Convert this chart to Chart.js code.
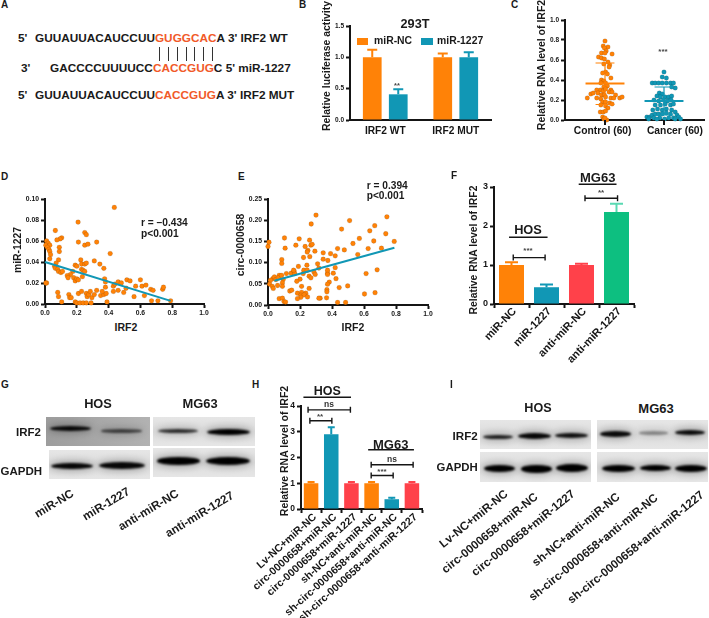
<!DOCTYPE html>
<html><head><meta charset="utf-8">
<script src="https://cdn.jsdelivr.net/npm/chart.js@4"></script>
<style>
html,body{margin:0;padding:0;background:#fff}
#fig{position:relative;width:709px;height:618px;overflow:hidden;background:#fff;filter:blur(.35px);font-family:"Liberation Sans",Arial,sans-serif;font-weight:bold;color:#1a1a1a}
#fig canvas{position:absolute}
.t{position:absolute;white-space:nowrap;line-height:1}
.o{color:#f15a29}
.r{position:absolute}
.p{position:absolute;overflow:hidden}
.b{position:absolute;border-radius:50%/50%;filter:blur(1.2px)}
</style></head><body><div id="fig"></div>
<script>
const ORANGE='#ff8207',TEAL='#1197b5',RED='#ff414a',GREEN='#0dbf80',INK='#151515';

// Panel B
const bCategories=['IRF2 WT','IRF2 MUT'];
const bNC=[1.0,1.0], bNCErr=[0.12,0.06];
const b1227=[0.41,1.0], b1227Err=[0.08,0.08];
// Panel C
const cCategories=['Control (60)','Cancer (60)'];
const cLabelAt=[.96,2.186];
const cControl=[[1,.79],[.97,.74],[1.05,.73],[.99,.72],[1.02,.69],[.94,.67],[1,.67],[1.12,.66],[.89,.63],[.94,.62],[.99,.61],[1.05,.58],[.98,.56],[1.08,.55],[1.07,.53],[1.01,.48],[.96,.47],[1.04,.46],[.94,.40],[1.10,.42],[.98,.39],[.93,.37],[1.01,.37],[.98,.33],[1.04,.34],[.92,.30],[.97,.29],[1.10,.30],[1.01,.31],[.70,.22],[.76,.26],[.80,.27],[.86,.30],[.88,.27],[.94,.25],[.99,.25],[1.07,.28],[1.12,.28],[1.18,.25],[1.25,.22],[1.29,.23],[.86,.22],[.93,.21],[1.01,.23],[1.10,.22],[1.15,.22],[.96,.18],[1.01,.18],[1.08,.17],[1.12,.16],[.93,.15],[1.01,.14],[1.05,.12],[.92,.08],[.97,.08],[1.01,.09],[.96,.03],[.98,.01],[1.03,0],[1,.02]];
const cCancer=[[2,.48],[1.97,.43],[2.04,.42],[1.80,.37],[1.85,.37],[1.91,.37],[1.97,.37],[2.04,.37],[2.11,.37],[2.16,.37],[2.19,.32],[2.13,.33],[1.92,.27],[1.97,.26],[1.88,.24],[1.94,.23],[2.02,.23],[2.08,.23],[2.13,.24],[1.83,.20],[1.91,.19],[1.99,.20],[2.06,.19],[2.12,.20],[1.85,.15],[1.94,.15],[2.02,.16],[2.11,.15],[2.16,.16],[1.81,.10],[1.89,.11],[1.97,.10],[2.04,.11],[2.13,.10],[2.19,.08],[1.71,.03],[1.76,.03],[1.80,.05],[1.85,.06],[1.91,.06],[1.97,.06],[2.04,.07],[2.11,.06],[2.22,.05],[2.25,.03],[1.74,.01],[1.83,.02],[1.93,.02],[2.01,.01],[2.08,.02],[2.16,.02],[2.28,.01],[2.19,.01],[1.88,.01]];
const cStats=[{x:1,mean:.365,hi:.57,lo:.155,color:ORANGE},{x:2,mean:.19,hi:.33,lo:.05,color:TEAL}];
// Panel D
const dPoints=[[.436,.092],[.208,.078],[.065,.070],[.25,.068],[.26,.066],[.105,.063],[.095,.062],[.075,.061],[.01,.060],[.02,.058],[.005,.056],[.21,.059],[.25,.056],[.27,.057],[.325,.059],[.03,.056],[.015,.054],[.025,.052],[.03,.050],[.035,.047],[.09,.054],[.09,.050],[.03,.043],[.085,.042],[.41,.048],[.225,.042],[.31,.041],[.07,.039],[.19,.037],[.2,.036],[.23,.038],[.25,.038],[.26,.039],[.345,.038],[.37,.034],[.06,.036],[.065,.034],[.08,.033],[.085,.031],[.1,.030],[.11,.031],[.23,.033],[.24,.032],[.25,.031],[.175,.031],[.16,.028],[.14,.027],[.145,.025],[.18,.025],[.19,.022],[.2,.024],[.21,.023],[.235,.026],[.375,.024],[.38,.021],[.01,.020],[.005,.020],[.08,.011],[.085,.007],[.15,.009],[.155,.006],[.165,.006],[.105,.002],[.19,.002],[.2,.001],[.22,.001],[.24,.001],[.26,.001],[.29,.001],[.21,.01],[.23,.012],[.26,.01],[.265,.007],[.275,.009],[.285,.012],[.295,.006],[.31,.009],[.325,.013],[.35,.008],[.37,.009],[.385,.01],[.38,.016],[.39,.002],[.43,.012],[.43,.017],[.44,.019],[.46,.013],[.46,.021],[.48,.02],[.495,.011],[.51,.015],[.515,.023],[.535,.022],[.56,.007],[.57,.017],[.6,.023],[.61,.017],[.625,.008],[.635,.018],[.665,.014],[.67,.003],[.68,.013],[.71,.003],[.74,.014],[.745,.016],[.79,.003],[.36,.012]];
const dFit=[[0,.040],[.79,.003]];
// Panel E
const ePoints=[[.30,.212],[.743,.208],[.51,.199],[.27,.191],[.667,.187],[.46,.179],[.636,.175],[.736,.168],[.103,.158],[.195,.156],[.571,.157],[.006,.148],[.26,.153],[.789,.15],[.661,.151],[.531,.145],[0,.138],[.107,.134],[.174,.141],[.232,.138],[.268,.141],[.276,.143],[.709,.134],[.626,.133],[.477,.13],[.435,.133],[.249,.129],[.245,.125],[.293,.127],[.345,.123],[.561,.119],[.391,.121],[.42,.116],[.222,.112],[.261,.114],[.086,.107],[.086,.098],[.345,.108],[.374,.105],[.31,.097],[.243,.094],[.19,.091],[.318,.087],[.42,.088],[.03,.062],[.04,.066],[.015,.058],[.05,.06],[.07,.07],[.065,.064],[.085,.07],[.095,.06],[.01,.049],[.027,.044],[.033,.039],[.06,.046],[.09,.052],[.09,.044],[.115,.074],[.145,.075],[.163,.08],[.167,.074],[.16,.082],[.224,.082],[.245,.082],[.22,.074],[.2,.061],[.18,.056],[.257,.068],[.268,.064],[.287,.078],[.295,.072],[.372,.075],[.372,.082],[.408,.075],[.425,.062],[.372,.072],[.383,.054],[.372,.049],[.445,.041],[.498,.045],[.21,.044],[.257,.039],[.368,.036],[.368,.031],[.366,.017],[.326,.016],[.318,.016],[.184,.028],[.21,.03],[.236,.028],[.205,.023],[.226,.024],[.247,.019],[.205,.018],[.184,.015],[.136,.033],[.148,.035],[.07,.015],[.09,.016],[.1,.008],[.11,.007],[.603,.026],[.669,.029],[.435,.006],[.485,.006],[.613,.074],[.682,.083]];
const eFit=[[.04,.057],[.79,.135]];
// Panel F
const fCategories=['miR-NC','miR-1227','anti-miR-NC','anti-miR-1227'];
const fValues=[1.0,.43,1.0,2.36], fErrors=[.07,.07,.03,.21];
const fBrackets=[[.05,.96,1.19],[2.1,3.03,2.71]];
const fRules=[[-.07,1.03,1.71],[1.92,3.0,3.07]];
// Panel H
const hCategories=['Lv-NC+miR-NC','circ-0000658+miR-NC','circ-0000658+miR-1227','sh-NC+anti-miR-NC','sh-circ-0000658+anti-miR-NC','sh-circ-0000658+anti-miR-1227'];
const hValues=[1.0,2.9,1.0,1.0,.38,1.0], hErrors=[.05,.27,.05,.05,.06,.05];
const hBrackets=[[-.15,1.95,3.85],[-.06,1.03,3.43],[2.98,5.06,1.72],[2.98,4.07,1.3]];
const hRules=[[-.38,1.98,4.34],[2.83,5.1,2.3]];

const fig=document.getElementById('fig');
function T(text,x,y,o={}){
  const e=document.createElement('div');e.className='t';
  if(o.html)e.innerHTML=text;else e.textContent=text;
  const ax={l:'0',c:'-50%',r:'-100%'}[o.a||'l'];
  const org={l:'0% 50%',c:'50% 50%',r:'100% 50%'}[o.a||'l'];
  e.style.cssText+=`left:${x}px;top:${y}px;font-size:${o.s||10.5}px;transform-origin:${org};transform:translate(${ax},-50%) rotate(${-(o.rot||0)}deg);`+(o.c?`color:${o.c};`:'');
  fig.appendChild(e);
}
function R(x,y,w,h,c){const e=document.createElement('div');e.className='r';e.style.cssText=`left:${x}px;top:${y}px;width:${w}px;height:${h}px;background:${c}`;fig.appendChild(e);}

// Draws error caps, brackets, rules and group summary lines from the chart's own scales
const marks={id:'marks',afterDatasetsDraw(ch,_a,o){
  const c=ch.ctx,x=ch.scales.x,y=ch.scales.y;c.save();c.lineCap='butt';
  if(o.errors)ch.data.datasets.forEach((d,i)=>{if(!d.errors)return;const m=ch.getDatasetMeta(i);
    d.errors.forEach((er,j)=>{const px=m.data[j].x,t=y.getPixelForValue(d.data[j]),u=y.getPixelForValue(d.data[j]+er);
      const col=d.errColor||d.backgroundColor;
      c.strokeStyle=Array.isArray(col)?col[j]:col;c.lineWidth=2;
      c.beginPath();c.moveTo(px,t);c.lineTo(px,u);c.moveTo(px-o.errors,u);c.lineTo(px+o.errors,u);c.stroke();});});
  (o.brackets||[]).forEach(b=>{const a=x.getPixelForValue(b[0]),e=x.getPixelForValue(b[1]),p=y.getPixelForValue(b[2]);
    c.strokeStyle=INK;c.lineWidth=1.4;c.beginPath();c.moveTo(a,p-3);c.lineTo(a,p+3);c.moveTo(e,p-3);c.lineTo(e,p+3);c.moveTo(a,p);c.lineTo(e,p);c.stroke();});
  (o.rules||[]).forEach(b=>{const a=x.getPixelForValue(b[0]),e=x.getPixelForValue(b[1]),p=y.getPixelForValue(b[2]);
    c.strokeStyle=INK;c.lineWidth=1.4;c.beginPath();c.moveTo(a,p);c.lineTo(e,p);c.stroke();});
  (o.stats||[]).forEach(s=>{const px=v=>x.getPixelForValue(v),py=v=>y.getPixelForValue(v);c.strokeStyle=s.color;
    c.lineWidth=2;c.beginPath();c.moveTo(px(s.x-.33),py(s.mean));c.lineTo(px(s.x+.33),py(s.mean));c.stroke();
    c.lineWidth=1.2;c.beginPath();c.moveTo(px(s.x),py(s.lo));c.lineTo(px(s.x),py(s.hi));
    [s.lo,s.hi].forEach(v=>{c.moveTo(px(s.x-.16),py(v));c.lineTo(px(s.x+.16),py(v));});c.stroke();
    c.strokeStyle=INK;c.lineWidth=2;c.beginPath();c.moveTo(px(s.x),py(0));c.lineTo(px(s.x),py(0)+5);c.stroke();});
  c.restore();}};

function make(box,cfg,xOpt,yOpt){
  const {ax,right,top,bottom,L,Tp,Rp,Bt}=box;
  const W=Math.round(L+(right-ax)+Rp),H=Math.round(Tp+(bottom-top)+Bt);
  const cv=document.createElement('canvas');cv.width=W;cv.height=H;
  cv.style.cssText=`left:${ax-L}px;top:${top-Tp}px;width:${W}px;height:${H}px`;fig.appendChild(cv);
  const zero=s=>{s.paddingLeft=s.paddingRight=s.paddingTop=s.paddingBottom=0;};
  cfg.options=Object.assign({responsive:false,animation:false,devicePixelRatio:1,
    layout:{padding:{top:Tp,right:Rp,left:0,bottom:0}},
    scales:{
      x:Object.assign({grid:{display:true,drawOnChartArea:false,drawTicks:true,tickLength:4,tickWidth:2,tickColor:INK},border:{color:INK,width:2},afterFit(s){zero(s);s.height=Bt;}},xOpt),
      y:Object.assign({grid:{display:true,drawOnChartArea:false,drawTicks:true,tickLength:4,tickWidth:2,tickColor:INK},border:{color:INK,width:2},afterFit(s){zero(s);s.width=L;}},yOpt)}
  },cfg.options||{});
  cfg.plugins=[marks];
  return new Chart(cv,cfg);
}
const bold=s=>({family:'"Liberation Sans",Arial,sans-serif',weight:'bold',size:s});
const quiet={legend:{display:false},tooltip:{enabled:false}};
const fixed=n=>v=>Number(v).toFixed(n);

// ---- B
make({ax:349.5,right:490,top:26,bottom:120,L:28,Tp:8,Rp:4,Bt:26},{type:'bar',
 data:{labels:bCategories,datasets:[
  {label:'miR-NC',data:bNC,errors:bNCErr,backgroundColor:ORANGE,categoryPercentage:.7376,barPercentage:.72},
  {label:'miR-1227',data:b1227,errors:b1227Err,backgroundColor:TEAL,categoryPercentage:.7376,barPercentage:.72}]},
 options:{plugins:Object.assign({},quiet,{marks:{errors:5}})}},
 {ticks:{color:INK,font:bold(10.2),padding:1,maxRotation:0},grid:{display:false,tickLength:4}},
 {min:0,max:1.5,ticks:{stepSize:.5,color:INK,font:bold(6.5),padding:2,callback:fixed(1)}});

// ---- C
make({ax:564.5,right:703,top:20,bottom:120,L:24,Tp:8,Rp:6,Bt:22},{type:'scatter',
 data:{datasets:[
  {label:'Control (60)',data:cControl.map(p=>({x:p[0],y:p[1]})),backgroundColor:ORANGE,pointRadius:2.3,clip:false},
  {label:'Cancer (60)',data:cCancer.map(p=>({x:p[0],y:p[1]})),backgroundColor:TEAL,pointRadius:2.3,clip:false}]},
 options:{plugins:Object.assign({},quiet,{marks:{stats:cStats}})}},
 {type:'linear',min:.322,max:2.678,afterBuildTicks(s){s.ticks=cLabelAt.map(v=>({value:v}));},
  grid:{display:false,tickLength:4},
  ticks:{color:INK,font:bold(10.3),padding:1,maxRotation:0,autoSkip:false,callback:(v,i)=>cCategories[i]}},
 {min:0,max:1,ticks:{stepSize:.2,color:INK,font:bold(6.5),padding:2,callback:fixed(1)}});

// ---- D
make({ax:45,right:204,top:198.7,bottom:304,L:26,Tp:6,Rp:8,Bt:16},{type:'scatter',
 data:{datasets:[
  {label:'fit',data:dFit.map(p=>({x:p[0],y:p[1]})),showLine:true,borderColor:TEAL,borderWidth:2,pointRadius:0,clip:false},
  {label:'miR-1227 vs IRF2',data:dPoints.map(p=>({x:p[0],y:p[1]})),backgroundColor:ORANGE,pointRadius:2.4,clip:false}]},
 options:{plugins:quiet}},
 {type:'linear',min:0,max:1,ticks:{stepSize:.2,color:INK,font:bold(6.8),padding:1,maxRotation:0,callback:fixed(1)}},
 {min:0,max:.1,ticks:{stepSize:.02,color:INK,font:bold(6.8),padding:2,callback:fixed(2)}});

// ---- E
make({ax:267.5,right:427,top:198.7,bottom:304.7,L:26,Tp:6,Rp:8,Bt:16},{type:'scatter',
 data:{datasets:[
  {label:'fit',data:eFit.map(p=>({x:p[0],y:p[1]})),showLine:true,borderColor:TEAL,borderWidth:2,pointRadius:0,clip:false},
  {label:'circ-0000658 vs IRF2',data:ePoints.map(p=>({x:p[0],y:p[1]})),backgroundColor:ORANGE,pointRadius:2.4,clip:false}]},
 options:{plugins:quiet}},
 {type:'linear',min:0,max:1,ticks:{stepSize:.2,color:INK,font:bold(6.8),padding:1,maxRotation:0,callback:fixed(1)}},
 {min:0,max:.25,ticks:{stepSize:.05,color:INK,font:bold(6.8),padding:2,callback:fixed(2)}});

// ---- F
make({ax:494,right:634,top:187,bottom:304.3,L:44,Tp:14,Rp:4,Bt:64},{type:'bar',
 data:{labels:fCategories,datasets:[{label:'IRF2',data:fValues,errors:fErrors,
   backgroundColor:[ORANGE,TEAL,RED,GREEN],errColor:[ORANGE,TEAL,RED,'#5ad9b2'],categoryPercentage:1,barPercentage:.714}]},
 options:{plugins:Object.assign({},quiet,{marks:{errors:6.5,brackets:fBrackets,rules:fRules}})}},
 {ticks:{color:INK,font:bold(11),padding:-3,labelOffset:3,minRotation:46,maxRotation:46,autoSkip:false}},
 {min:0,max:3,ticks:{stepSize:1,color:INK,font:bold(9),padding:2}});

// ---- H
make({ax:301,right:422,top:406,bottom:509.3,L:66,Tp:14,Rp:6,Bt:109},{type:'bar',
 data:{labels:hCategories,datasets:[{label:'IRF2',data:hValues,errors:hErrors,
   backgroundColor:[ORANGE,TEAL,RED,ORANGE,TEAL,RED],categoryPercentage:1,barPercentage:.72}]},
 options:{plugins:Object.assign({},quiet,{marks:{errors:3.5,brackets:hBrackets,rules:hRules}})}},
 {ticks:{color:INK,font:bold(10.6),padding:-2,labelOffset:4,minRotation:42,maxRotation:42,autoSkip:false}},
 {min:0,max:4,ticks:{stepSize:1,color:INK,font:bold(8.5),padding:2}});

// ---- Panel letters
[['A',1,5],['B',299,5],['C',511,5],['D',1,177],['E',238,177],['F',451,176],['G',1,385],['H',252,385],['I',450,385]].forEach(l=>T(l[0],l[1],l[2],{s:10}));

// ---- A
const aS=11.8;
T("5'",18,39,{s:aS});T("GUUAUUACAUCCUU<span class=o>GUGGCAC</span>A 3' IRF2 WT",35,39,{s:aS,html:1});
T("3'",21,69,{s:aS});T("GACCCCUUUUCC<span class=o>CACCGUG</span>C 5' miR-1227",50,69,{s:aS,html:1});
T("5'",18,96,{s:aS});T("GUUAUUACAUCCUU<span class=o>CACCGUG</span>A 3' IRF2 MUT",35,96,{s:aS,html:1});
[159,168,177,186,194,203,212].forEach(x=>R(x,47,1,14,'#333'));

// ---- B extras
T('293T',415,24,{a:'c',s:12.7});
R(357,38,11,7,ORANGE);T('miR-NC',374,41,{s:10.4});
R(421,38,12,7,TEAL);T('miR-1227',437,41,{s:10.4});
T('Relative luciferase activity',327.3,66,{a:'c',rot:90,s:10.4});
T('**',397,85.5,{a:'c',s:7.5,c:'#444'});
// ---- C extras
T('Relative RNA level of IRF2',541,65,{a:'c',rot:90,s:10.5});
T('***',663,52,{a:'c',s:8,c:'#444'});
// ---- D extras
T('miR-1227',18,250,{a:'c',rot:90,s:10.4});T('IRF2',126,327,{a:'c',s:10.5});
T('r = –0.434',141,222.7,{s:10.2});T('p<0.001',141,234,{s:10.2});
// ---- E extras
T('circ-0000658',240.7,245,{a:'c',rot:90,s:10.4});T('IRF2',353,327,{a:'c',s:10.5});
T('r = 0.394',366.7,186,{s:10.2});T('p<0.001',366.7,196,{s:10.2});
// ---- F extras
T('Relative RNA level of IRF2',474,249.7,{a:'c',rot:90,s:10.4});
T('HOS',528,230,{a:'c',s:12.8});T('MG63',597.7,177,{a:'c',s:13});
T('***',528,250.5,{a:'c',s:8,c:'#444'});T('**',601,193,{a:'c',s:8,c:'#444'});
// ---- H extras
T('Relative RNA level of IRF2',284,450.7,{a:'c',rot:90,s:10.5});
T('HOS',327.3,390.7,{a:'c',s:12.5});T('MG63',390.7,444,{a:'c',s:13});
T('ns',329,404,{a:'c',s:8.5,c:'#333'});T('**',320,417,{a:'c',s:8,c:'#444'});
T('ns',392,459,{a:'c',s:8.5,c:'#333'});T('***',382,472,{a:'c',s:8,c:'#444'});

// ---- blots
function blot(x,y,w,h,bg,bands){
  const p=document.createElement('div');p.className='p';p.style.cssText=`left:${x}px;top:${y}px;width:${w}px;height:${h}px;background:${bg}`;
  bands.forEach(b=>{const e=document.createElement('div');e.className='b';
    e.style.cssText=`left:${b[0]-x}px;top:${b[1]-y-b[3]/2}px;width:${b[2]-b[0]}px;height:${b[3]}px;background:rgba(0,0,0,${b[4]});box-shadow:0 0 7px 2px rgba(0,0,0,${(b[4]*.28).toFixed(2)})`;
    p.appendChild(e);});
  fig.appendChild(p);
}
const lightBg='linear-gradient(#e6e6e6,#dcdcdc 50%,#e6e6e6)';
blot(46,416.7,104,29.5,'linear-gradient(90deg,#9d9d9d,#b2b2b2)',[[50,429,91,5,.95],[101,431,142,3.5,.65]]);
blot(49,450,101,29,lightBg,[[51,465.8,93,6.5,.97],[99,465.8,145,7,.97]]);
blot(153,416.7,102,29.3,lightBg,[[158,430.7,198,4,.8],[207,432,250,6.5,1]]);
blot(153,447.7,102,29.3,lightBg,[[157,461,200,7.5,1],[206,461.5,250,8,1]]);
T('HOS',98,404,{a:'c',s:12.8});T('MG63',200,404,{a:'c',s:12.9});
T('IRF2',41,433,{a:'r',s:11.5});T('GAPDH',42,472,{a:'r',s:11.5});
[['miR-NC',73,493],['miR-1227',129,491],['anti-miR-NC',178,493],['anti-miR-1227',233,495]].forEach(l=>T(l[0],l[1],l[2],{a:'r',rot:31,s:11.8}));

blot(480,420,111,29,lightBg,[[483,437,513,4.5,.85],[518,436,551,6,.97],[555,435,588,5,.92]]);
blot(597,420,111,29,lightBg,[[600,434,631,5.5,.95],[639,433,668,3.5,.4],[675,432,705,5,.95]]);
blot(480,452,111,30,lightBg,[[484,468,515,7,1],[521,469,552,7.5,1],[556,468,588,8,1]]);
blot(597,452,111,30,lightBg,[[602,468,635,7,1],[640,468,671,6.5,1],[675,468,707,7,1]]);
T('HOS',538,408,{a:'c',s:12.6});T('MG63',656,408,{a:'c',s:13});
T('IRF2',477.7,436,{a:'r',s:11.6});T('GAPDH',477.7,468,{a:'r',s:11.4});
[['Lv-NC+miR-NC',506,492],['circ-0000658+miR-NC',536,495],['circ-0000658+miR-1227',573,492],['sh-NC+anti-miR-NC',618,495],['sh-circ-0000658+anti-miR-NC',656,496],['sh-circ-0000658+anti-miR-1227',702,493]].forEach(l=>T(l[0],l[1],l[2],{a:'r',rot:39,s:11.7}));
</script></body></html>
